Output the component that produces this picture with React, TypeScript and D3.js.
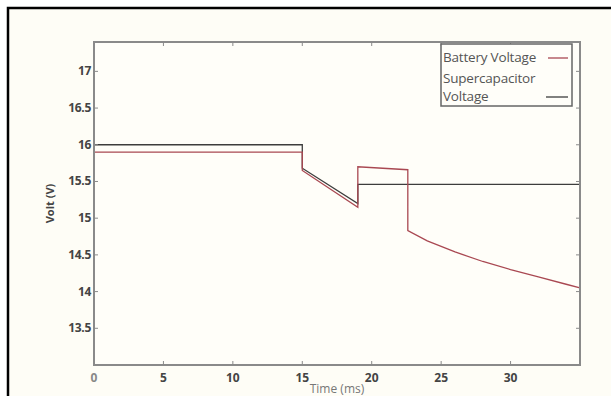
import React from "react";
import * as d3 from "d3";

const timeSuper = [0, 15, 15, 19, 19, 35];
const voltSuper = [16.0, 16.0, 15.68, 15.2, 15.46, 15.46];
const timeBattery = [0, 15, 15, 19, 19, 22.6, 22.6, 24, 26, 28, 30, 32, 34, 35];
const voltBattery = [15.9, 15.9, 15.65, 15.15, 15.7, 15.66, 14.83, 14.69, 14.54, 14.41, 14.3, 14.2, 14.1, 14.05];
const xTicks = [0, 5, 10, 15, 20, 25, 30];
const yTicks = [13.5, 14, 14.5, 15, 15.5, 16, 16.5, 17];
const legendLabels = ["Battery Voltage", "Supercapacitor", "Voltage"];

const W = 611;
const H = 396;
const L = 94, R = 580, T = 42, B = 365;

export default function App() {
  const x = d3.scaleLinear().domain([0, 35]).range([L, R]);
  const y = d3.scaleLinear().domain([13, 17.4]).range([B, T]);
  const line = d3
    .line<[number, number]>()
    .x((d) => x(d[0]))
    .y((d) => y(d[1]));
  const sup = timeSuper.map((t, i) => [t, voltSuper[i]] as [number, number]);
  const bat = timeBattery.map((t, i) => [t, voltBattery[i]] as [number, number]);
  const tickColor = "#444";
  const font = "'Open Sans', 'DejaVu Sans', sans-serif";

  return (
    <svg
      width={W}
      height={H}
      style={{ position: "absolute", left: 0, top: 0, display: "block" }}
    >
      <rect x={0} y={0} width={W} height={H} fill="#ffffff" />
      <rect x={8} y={8} width={W + 10} height={H + 10} fill="#fefdf6" stroke="#000" strokeWidth={2.5} />
      <rect x={L} y={T} width={R - L} height={B - T} fill="#fffef9" />
      {/* lines */}
      <path d={line(sup) || ""} fill="none" stroke="#3d3d3d" strokeWidth={1.3} />
      <path d={line(bat) || ""} fill="none" stroke="#a94852" strokeWidth={1.3} />
      {/* axes box */}
      <rect x={L} y={T} width={R - L} height={B - T} fill="none" stroke="#8a8a8a" strokeWidth={2} />
      {xTicks.map((t) => (
        <g key={"x" + t}>
          <line x1={x(t)} x2={x(t)} y1={B} y2={B - 4} stroke="#8a8a8a" />
          <line x1={x(t)} x2={x(t)} y1={T} y2={T + 4} stroke="#8a8a8a" />
          <text
            x={x(t)}
            y={B + 17}
            textAnchor="middle"
            fontSize={12}
            fontWeight="bold"
            fontFamily={font}
            fill={t === 0 ? "#888" : tickColor}
          >
            {t}
          </text>
        </g>
      ))}
      {yTicks.map((t) => (
        <g key={"y" + t}>
          <line x1={L} x2={L + 4} y1={y(t)} y2={y(t)} stroke="#8a8a8a" />
          <line x1={R} x2={R - 4} y1={y(t)} y2={y(t)} stroke="#8a8a8a" />
          <text
            x={L - 3}
            y={y(t) + 4}
            textAnchor="end"
            fontSize={12}
            fontWeight="bold"
            fontFamily={font}
            fill={tickColor}
            letterSpacing={-0.3}
          >
            {t}
          </text>
        </g>
      ))}
      <text
        x={x(17.5)}
        y={393}
        textAnchor="middle"
        fontSize={12}
        fontFamily={font}
        fill="#777"
      >
        Time (ms)
      </text>
      <text
        transform={`translate(54, ${y(15.2)}) rotate(-90)`}
        textAnchor="middle"
        fontSize={11}
        fontWeight="bold"
        fontFamily={font}
        fill="#444"
      >
        Volt (V)
      </text>
      {/* legend */}
      <rect x={441} y={44} width={131} height={62} fill="#fffef9" stroke="#666" strokeWidth={1.5} />
      <text x={443} y={62} fontSize={13.5} fontFamily={font} fill="#555" letterSpacing={-0.2}>{legendLabels[0]}</text>
      <line x1={548} x2={568} y1={58} y2={58} stroke="#a94852" strokeWidth={1.3} />
      <text x={443} y={83} fontSize={13.5} fontFamily={font} fill="#555" letterSpacing={-0.2}>{legendLabels[1]}</text>
      <text x={443} y={101} fontSize={13.5} fontFamily={font} fill="#555" letterSpacing={-0.2}>{legendLabels[2]}</text>
      <line x1={546} x2={568} y1={97} y2={97} stroke="#3d3d3d" strokeWidth={1.3} />
    </svg>
  );
}
